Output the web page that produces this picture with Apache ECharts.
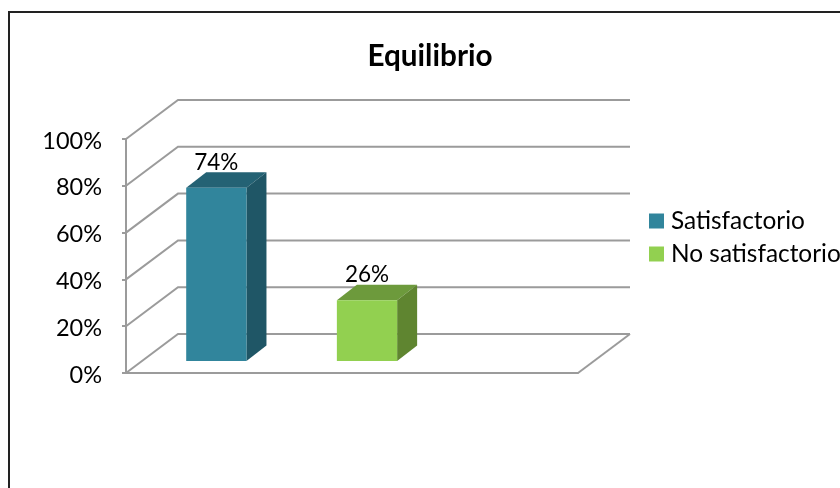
<!DOCTYPE html>
<html><head><meta charset="utf-8">
<style>html,body{margin:0;padding:0;background:#fff}#c{width:840px;height:488px}</style>
<script src="https://cdn.jsdelivr.net/npm/echarts@6/dist/echarts.min.js"></script>
</head><body><div id="c"></div>
<script>
var titleText = 'Equilibrio';
var categories = ['Satisfactorio', 'No satisfactorio', ''];
var seriesNames = ['Satisfactorio', 'No satisfactorio'];
var satisfactorio = [[0, 0.74]];
var noSatisfactorio = [[1, 0.26]];
var yTicks = [0, 0.2, 0.4, 0.6, 0.8, 1];
var FONT = 'Lato';
var GRAY = '#9b9b9b';
var DX = 52, DY = -39;

function wall(params, api) {
  var cs = params.coordSys;
  var v = api.value(1);
  var p = api.coord([0, v]);
  var x0 = cs.x, x1 = cs.x + cs.width, y = p[1];
  var children = [{
    type: 'polyline',
    shape: { points: [[x0, y], [x0 + DX, y + DY], [x1 + DX, y + DY]] },
    style: { stroke: GRAY, lineWidth: 2, fill: null }
  }];
  if (v === 0) {
    children.push({
      type: 'line',
      shape: { x1: x1, y1: y, x2: x1 + DX, y2: y + DY },
      style: { stroke: GRAY, lineWidth: 2 }
    });
  }
  return { type: 'group', children: children };
}

function bar3d(colors) {
  return function (params, api) {
    var base = api.coord([api.value(0), 0]);
    var top = api.coord([api.value(0), api.value(1)]);
    var w = api.size([1, 0])[0] * 0.4;
    var l = base[0] + 15 - w / 2, r = l + w;
    var yb = base[1] - 12, yt = top[1] - 12;
    var dx = 20, dy = -15.5;
    return {
      type: 'group',
      children: [
        { type: 'polygon', shape: { points: [[l, yt], [r, yt], [r + dx, yt + dy], [l + dx, yt + dy]] }, style: { fill: colors[1] } },
        { type: 'polygon', shape: { points: [[r, yt], [r + dx, yt + dy], [r + dx, yb + dy], [r, yb]] }, style: { fill: colors[2] } },
        { type: 'rect', shape: { x: l, y: yt, width: w, height: yb - yt }, style: { fill: colors[0] } },
        { type: 'text', x: (l + r) / 2, y: yt + dy - 9.5,
          style: { text: Math.round(api.value(1) * 100) + '%', font: '22.5px ' + FONT, fill: '#000', align: 'center', verticalAlign: 'middle' } }
      ]
    };
  };
}

var chart = echarts.init(document.getElementById('c'), null, { renderer: 'canvas' });
chart.setOption({
  animation: false,
  backgroundColor: '#fff',
  title: {
    text: titleText, left: 425, top: 36, textAlign: 'center',
    textStyle: { fontFamily: FONT, fontSize: 29.7, fontWeight: 'bold', color: '#000' }
  },
  legend: {
    data: seriesNames, orient: 'vertical', left: 649, top: 209, padding: 0,
    itemWidth: 15, itemHeight: 15, itemGap: 9, icon: 'rect',
    textStyle: { fontFamily: FONT, fontSize: 24.4, color: '#000', padding: [0, 0, 0, 2] }
  },
  grid: { left: 126, top: 139, width: 452, height: 234 },
  xAxis: {
    type: 'category', data: categories,
    axisTick: { show: false }, axisLabel: { show: false },
    axisLine: { lineStyle: { color: GRAY, width: 2 } }
  },
  yAxis: {
    type: 'value', min: 0, max: 1, interval: 0.2,
    splitLine: { show: false },
    axisLine: { show: true, lineStyle: { color: GRAY, width: 2 } },
    axisTick: { show: true, length: 4, lineStyle: { color: GRAY, width: 2 } },
    axisLabel: {
      margin: 24, fontFamily: FONT, fontSize: 23.5, color: '#000',
      verticalAlign: 'top', lineHeight: 24, padding: [-10, 0, 0, 0],
      formatter: function (v) { return Math.round(v * 100) + '%'; }
    }
  },
  series: [
    { type: 'custom', name: 'walls', silent: true, z: 1, renderItem: wall,
      data: yTicks.map(function (t) { return [0, t]; }), encode: { x: 0, y: 1 } },
    { type: 'custom', name: seriesNames[0], z: 3, itemStyle: { color: '#31859C' },
      renderItem: bar3d(['#31859C', '#246274', '#1F5666']), data: satisfactorio, encode: { x: 0, y: 1 } },
    { type: 'custom', name: seriesNames[1], z: 3, itemStyle: { color: '#92D050' },
      renderItem: bar3d(['#92D050', '#6D9A3C', '#5F8530']), data: noSatisfactorio, encode: { x: 0, y: 1 } }
  ],
  graphic: [
    { type: 'polyline', silent: true, z: 10,
      shape: { points: [[9, 488], [9, 12], [840, 12]] },
      style: { stroke: '#222', lineWidth: 2, fill: null } }
  ]
});
</script></body></html>
